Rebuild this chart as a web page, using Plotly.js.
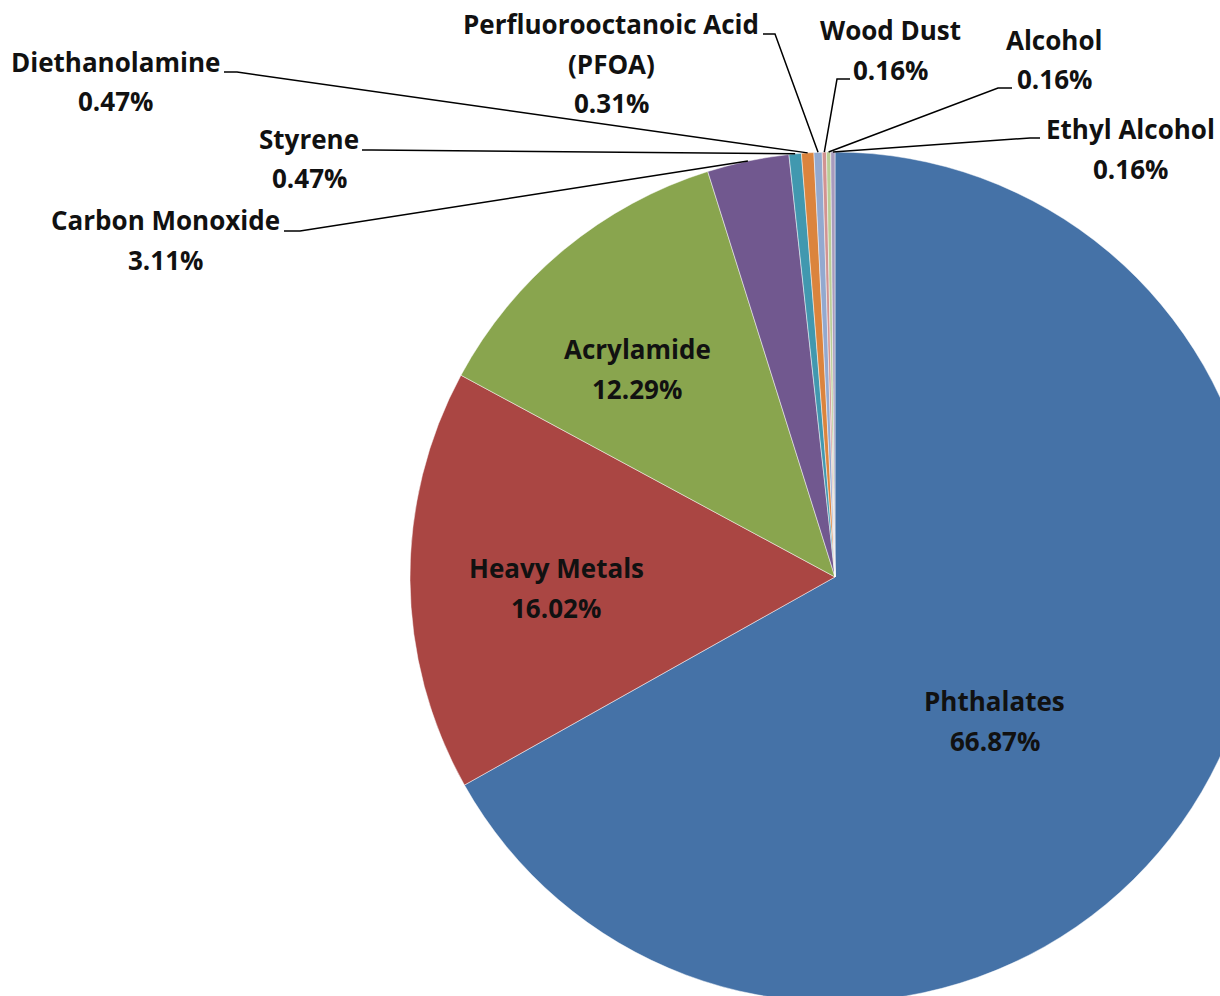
<!DOCTYPE html>
<html>
<head>
<meta charset="utf-8">
<script src="https://cdn.plot.ly/plotly-3.0.1.min.js"></script>
<style>
html,body{margin:0;padding:0;overflow:hidden;background:#fff;}
#chart{width:1300px;height:1010px;}
</style>
</head>
<body>
<div id="chart"></div>
<script>
// ---- data ----
var categories = ["Phthalates","Heavy Metals","Acrylamide","Carbon Monoxide","Styrene","Diethanolamine","Perfluorooctanoic Acid (PFOA)","Wood Dust","Alcohol","Ethyl Alcohol"];
var values = [66.87,16.02,12.29,3.11,0.47,0.47,0.31,0.16,0.16,0.16];
var labelLines = [["Phthalates"],["Heavy Metals"],["Acrylamide"],["Carbon Monoxide"],["Styrene"],["Diethanolamine"],["Perfluorooctanoic Acid","(PFOA)"],["Wood Dust"],["Alcohol"],["Ethyl Alcohol"]];
var colors = ["#4572A7","#AA4643","#89A54E","#71588F","#4198AF","#DB843D","#93A9CF","#D19392","#B9CD96","#A99BBD"];

// ---- layout geometry (pixels) ----
var W = 1300, H = 1010;
var CX = 835, CY = 577, R = 425;
function px(x){return x/W;}
function py(y){return 1 - y/H;}

var LINE_GAP = 39.5;
var labelPos = [
  [995,701],[556,568],[637,349],[165,220],[309,139],[116,62],[611,24],[890,30],[1054,40],[1130,129]
];
var leaderEnds = [
  null,null,null,
  [[300,231],[284,231]],
  [[372,150],[362,150]],
  [[237,72],[224,72]],
  [[775,34],[763,34]],
  [[837,79],[850,79]],
  [[998,88],[1012,88]],
  [[1030,138],[1040,138]]
];

var total = values.reduce(function(a,b){return a+b;},0);
var cum = 0;
var annotations = [], shapes = [];
var font = {family:"'Open Sans', Lato, sans-serif", size:26, color:"#111"};
values.forEach(function(v,i){
  var mid = (cum + v/2)/total; cum += v;
  var ang = mid*2*Math.PI;
  var ex = CX + R*Math.sin(ang), ey = CY - R*Math.cos(ang);
  var lines = labelLines[i].concat([v.toFixed(2)+"%"]);
  lines.forEach(function(t,k){
    annotations.push({
      xref:"paper",yref:"paper",x:px(labelPos[i][0]),y:py(labelPos[i][1]+k*LINE_GAP),
      text:"<b>"+t+"</b>",showarrow:false,xanchor:"center",yanchor:"middle",font:font
    });
  });
  if(leaderEnds[i]){
    var p = leaderEnds[i];
    shapes.push({
      type:"path",xref:"paper",yref:"paper",
      path:"M "+px(ex)+","+py(ey)+" L "+px(p[0][0])+","+py(p[0][1])+" L "+px(p[1][0])+","+py(p[1][1]),
      line:{color:"#000",width:1.5}
    });
  }
});

var trace = {
  type:"pie",
  labels:categories,
  values:values,
  sort:false,
  direction:"clockwise",
  rotation:0,
  textinfo:"none",
  hoverinfo:"label+percent",
  marker:{colors:colors,line:{color:"rgba(255,255,255,0.6)",width:0.8}},
  domain:{x:[px(CX-R),px(CX+R)],y:[py(CY+R),py(CY-R)]}
};

var layout = {
  width:W,height:H,
  margin:{l:0,r:0,t:0,b:0},
  showlegend:false,
  paper_bgcolor:"#fff",
  annotations:annotations,
  shapes:shapes
};
Plotly.newPlot("chart",[trace],layout,{displayModeBar:false,staticPlot:true});
</script>
</body>
</html>
